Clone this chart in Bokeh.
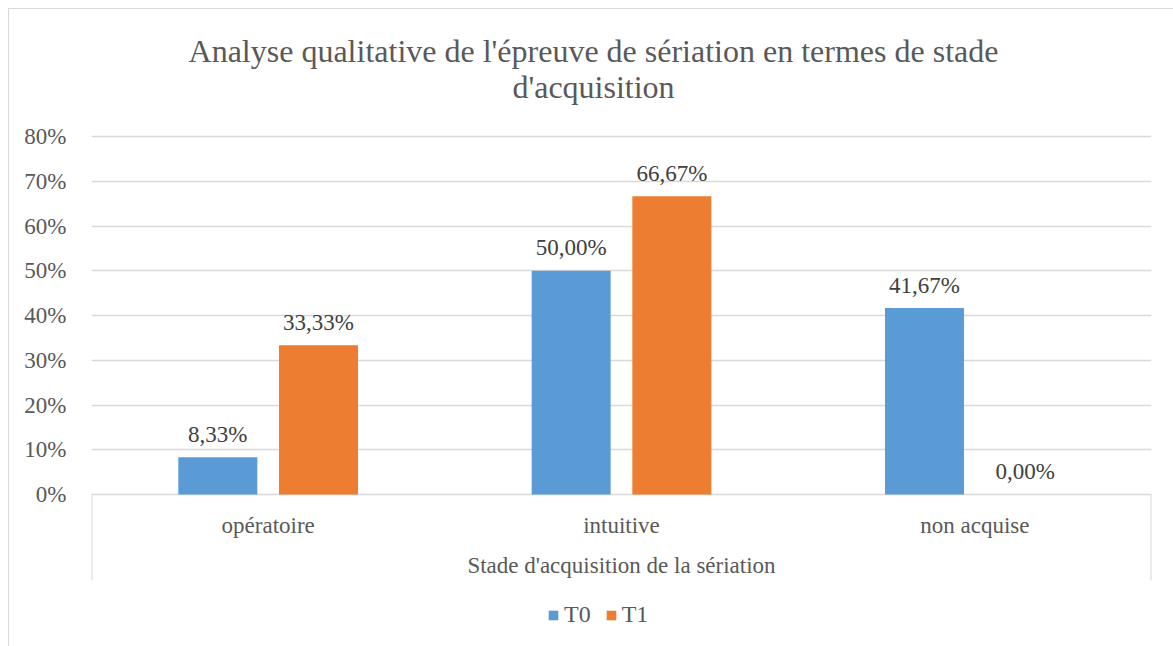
from bokeh.plotting import figure
from bokeh.models import (FactorRange, Range1d, FixedTicker, NumeralTickFormatter,
                          Legend, LegendItem, ColumnDataSource)
from bokeh.transform import dodge
from bokeh.core.properties import value
from bokeh.embed import file_html
from bokeh.resources import INLINE

# ---- data ----
categories = ["opératoire", "intuitive", "non acquise"]
t0_values = [0.0833, 0.5000, 0.4167]
t1_values = [0.3333, 0.6667, 0.0000]
series_names = ["T0", "T1"]
y_ticks = [0.0, 0.1, 0.2, 0.3, 0.4, 0.5, 0.6, 0.7, 0.8]
title_lines = ["Analyse qualitative de l'épreuve de sériation en termes de stade",
               "d'acquisition"]
axis_title = "Stade d'acquisition de la sériation"

FONT = "Liberation Serif"
TXT = "#595959"
GRID = "#d9d9d9"
BLUE = "#5B9BD5"
ORANGE = "#ED7D31"
Y_TOP = 1.0838     # top of canvas
Y_BOT = -0.33966   # bottom of canvas
Y_BOX = -0.19218   # bottom of category box


def fmt(v):
    return f"{v * 100:.2f}%".replace(".", ",")


src = ColumnDataSource(dict(
    cat=categories,
    t0=t0_values,
    t1=t1_values,
    t0_lab=[fmt(v) for v in t0_values],
    t1_lab=[fmt(v) for v in t1_values],
))

p = figure(
    width=1164, height=637,
    x_range=FactorRange(factors=categories, range_padding=0),
    y_range=Range1d(Y_BOT, Y_TOP),
    x_axis_location=None,
    output_backend="svg", toolbar_location=None,
    min_border_left=82, min_border_right=22,
    min_border_top=0, min_border_bottom=0,
)
p.outline_line_color = None

# y axis
ticker = FixedTicker(ticks=y_ticks)
p.yaxis.ticker = ticker
p.yaxis.formatter = NumeralTickFormatter(format="0%")
p.yaxis.axis_line_color = None
p.yaxis.major_tick_line_color = None
p.yaxis.minor_tick_line_color = None
p.yaxis.major_label_standoff = 19
p.yaxis.major_label_text_font = FONT
p.yaxis.major_label_text_font_size = "23px"
p.yaxis.major_label_text_color = TXT
p.xgrid.visible = False
p.ygrid.ticker = ticker
p.ygrid.grid_line_color = GRID
p.ygrid.grid_line_width = 1.5

# title lines
p.text(x=[categories[1]] * 2, y=[0.99218, 0.90950], text=title_lines,
       x_offset=-28, text_font=value(FONT), text_font_size="32px", text_color=TXT,
       text_align="center", text_baseline="middle")

# box lines of the category axis (outer edges of first / last category)
edge_l = ColumnDataSource(dict(c=[categories[0]], y0=[0], y1=[Y_BOX]))
edge_r = ColumnDataSource(dict(c=[categories[-1]], y0=[0], y1=[Y_BOX]))
for s, o in ((edge_l, -0.5), (edge_r, 0.5)):
    p.segment(x0=dodge("c", o, range=p.x_range), y0="y0",
              x1=dodge("c", o, range=p.x_range), y1="y1",
              source=s, line_color=GRID, line_width=2)

# bars
off = 0.1425
bw = 0.2236
r0 = p.vbar(x=dodge("cat", -off, range=p.x_range), top="t0", width=bw, source=src,
            fill_color=BLUE, line_color=None)
r1 = p.vbar(x=dodge("cat", off, range=p.x_range), top="t1", width=bw, source=src,
            fill_color=ORANGE, line_color=None)

# value labels
for col, lab, o in (("t0", "t0_lab", -off), ("t1", "t1_lab", off)):
    p.text(x=dodge("cat", o, range=p.x_range), y=col, text=lab, source=src,
           text_font=value(FONT), text_font_size="23px", text_color="#404040",
           text_align="center", text_baseline="alphabetic", y_offset=-23)

# category labels
p.text(x="cat", y=0, text="cat", source=src, text_font=value(FONT),
       text_font_size="23px", text_color=TXT, text_align="center",
       text_baseline="middle", y_offset=31)
p.text(x=[categories[1]], y=[0], text=[axis_title], text_font=value(FONT),
       text_font_size="23px", text_color=TXT, text_align="center",
       text_baseline="middle", y_offset=71)

legend = Legend(items=[LegendItem(label=series_names[0], renderers=[r0]),
                       LegendItem(label=series_names[1], renderers=[r1])],
                orientation="horizontal", location=(456, 18))
legend.label_text_font = FONT
legend.label_text_font_size = "24px"
legend.label_text_color = TXT
legend.glyph_width = 12
legend.glyph_height = 12
legend.label_standoff = 5
legend.spacing = 14
legend.padding = 6
legend.margin = 0
legend.border_line_color = None
legend.background_fill_alpha = 0
p.add_layout(legend)

html = file_html(p, INLINE)
css = "<style>body{margin:8px 0 0 8px;border-top:1px solid #d9d9d9;border-left:1px solid #d9d9d9;}</style>"
html = html.replace("</head>", css + "</head>", 1)
open("out.html", "w").write(html)
